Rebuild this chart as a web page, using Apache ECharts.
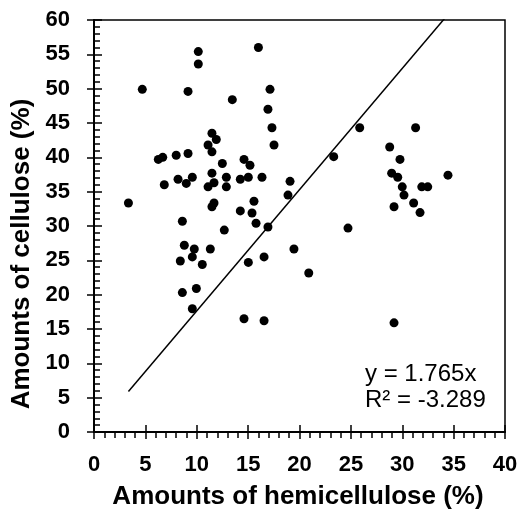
<!DOCTYPE html>
<html><head><meta charset="utf-8">
<script src="https://cdn.jsdelivr.net/npm/echarts@6/dist/echarts.min.js"></script>
<style>html,body{margin:0;padding:0;background:#fff}#c{width:526px;height:509px}</style>
</head><body><div id="c"></div>
<script>
const hemicellulose = [4.7,3.35,10.15,10.15,9.15,16.0,17.13,13.46,16.93,17.32,17.52,11.48,11.9,11.1,11.48,6.26,6.69,8.0,9.15,12.49,14.6,15.18,6.84,8.18,8.98,9.57,11.48,12.88,11.68,11.1,12.88,14.24,15.02,16.35,19.08,18.88,11.68,11.48,15.57,14.24,15.38,8.6,15.77,16.93,12.68,8.79,9.76,11.32,9.57,8.4,10.54,15.02,16.55,19.46,20.9,8.6,9.96,9.57,14.6,16.55,25.86,23.33,31.3,28.78,29.78,28.97,29.56,34.45,30.0,31.9,32.48,30.17,31.11,29.2,31.73,24.72,29.2];
const cellulose = [49.9,33.35,55.4,53.6,49.6,56.0,49.9,48.4,47.0,44.3,41.8,43.5,42.6,41.8,40.8,39.7,40.0,40.3,40.55,39.1,39.7,38.85,36.0,36.8,36.2,37.1,37.7,37.1,36.3,35.7,35.7,36.8,37.1,37.1,36.5,34.5,33.35,32.8,33.6,32.2,31.9,30.7,30.4,29.85,29.4,27.2,26.65,26.65,25.5,24.9,24.4,24.7,25.5,26.65,23.15,20.3,20.9,17.95,16.5,16.2,44.3,40.1,44.3,41.5,39.7,37.7,37.1,37.4,35.7,35.7,35.7,34.5,33.35,32.8,31.95,29.7,15.9];
const slope = 1.765;
const r2Text = "R² = -3.289";
const eqText = "y = 1.765x";
const xTitle = "Amounts of hemicellulose (%)";
const yTitle = "Amounts of cellulose (%)";

const FONT = "Liberation Sans, Arial, sans-serif";
const points = hemicellulose.map((x, i) => [x, cellulose[i]]);
const minX = Math.min(...hemicellulose), maxX = Math.max(...hemicellulose);
const trend = [[minX, slope * minX], [maxX, slope * maxX]];

const chart = echarts.init(document.getElementById('c'));
const lblStyle = {fontFamily: FONT, fontWeight: 'bold', fontSize: 22, color: '#000'};
const tickLine = {color: '#000', width: 1.5};
chart.setOption({
  animation: false,
  grid: {left: 94, right: 21, top: 20, bottom: 77, show: true, borderColor: '#000', borderWidth: 1.5, backgroundColor: 'transparent'},
  xAxis: [
    {type: 'value', min: 0, max: 40, interval: 5, position: 'bottom',
     axisLine: {show: true, onZero: false, lineStyle: {color: '#000', width: 2}},
     axisTick: {show: true, inside: false, length: 7, lineStyle: tickLine},
     minorTick: {show: true, splitNumber: 5, length: 6, lineStyle: tickLine},
     splitLine: {show: false},
     axisLabel: Object.assign({margin: 22}, lblStyle)},
    {type: 'value', min: 0, max: 40, interval: 5, position: 'bottom',
     axisLine: {show: false}, axisTick: {show: true, inside: true, length: 7, lineStyle: tickLine},
     splitLine: {show: false}, axisLabel: {show: false}}
  ],
  yAxis: [
    {type: 'value', min: 0, max: 60, interval: 5, position: 'left',
     axisLine: {show: true, onZero: false, lineStyle: {color: '#000', width: 2}},
     axisTick: {show: true, inside: true, length: 8, lineStyle: tickLine},
     minorTick: {show: true, splitNumber: 5, length: 6, lineStyle: tickLine},
     splitLine: {show: false},
     axisLabel: Object.assign({margin: 24}, lblStyle)},
    {type: 'value', min: 0, max: 60, interval: 5, position: 'left',
     axisLine: {show: false}, axisTick: {show: true, inside: false, length: 7, lineStyle: tickLine},
     splitLine: {show: false}, axisLabel: {show: false}}
  ],
  series: [
    {type: 'scatter', xAxisIndex: 0, yAxisIndex: 0, data: points, symbol: 'circle', symbolSize: 9,
     itemStyle: {color: '#000', opacity: 1}},
    {type: 'line', xAxisIndex: 0, yAxisIndex: 0, data: trend, showSymbol: false, symbol: 'none', clip: true,
     lineStyle: {color: '#000', width: 1.5}}
  ],
  graphic: [
    {type: 'text', x: 298, y: 497, style: {text: xTitle, font: 'bold 26px ' + FONT, fill: '#000', align: 'center', verticalAlign: 'middle'}},
    {type: 'text', x: 22, y: 254, rotation: Math.PI / 2, style: {text: yTitle, font: 'bold 26px ' + FONT, fill: '#000', align: 'center', verticalAlign: 'middle'}},
    {type: 'text', x: 365, y: 374, style: {text: eqText, font: '24px ' + FONT, fill: '#000', align: 'left', verticalAlign: 'middle'}},
    {type: 'text', x: 365, y: 400, style: {text: r2Text, font: '24px ' + FONT, fill: '#000', align: 'left', verticalAlign: 'middle'}}
  ]
});
</script>
</body></html>
